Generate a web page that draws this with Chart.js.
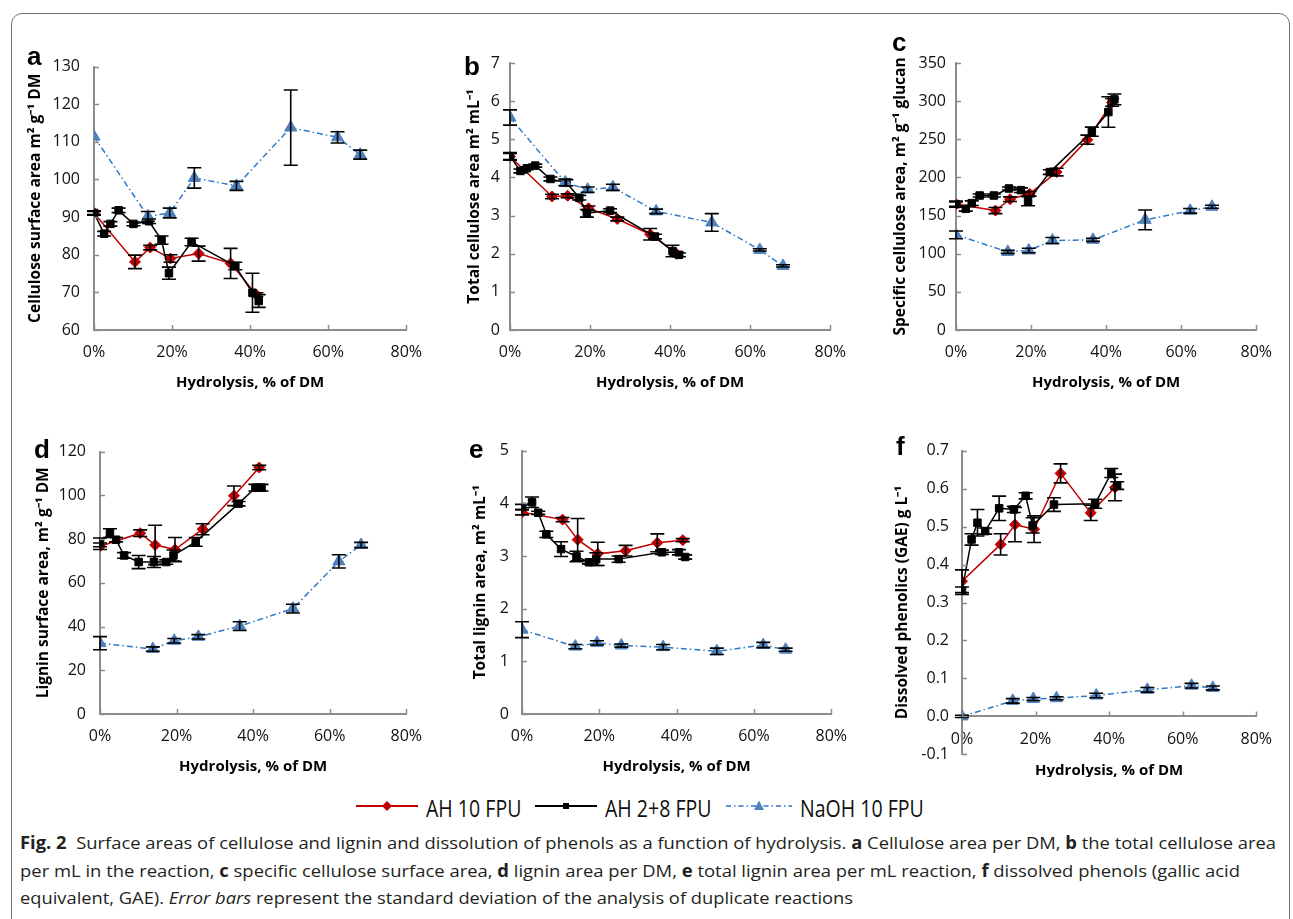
<!DOCTYPE html>
<html lang="en">
<head>
<meta charset="UTF-8">
<title>Fig. 2</title>
<script src="https://cdn.jsdelivr.net/npm/chart.js"></script>
<style>
  body{margin:0;background:#fff;width:1293px;height:919px;overflow:hidden;position:relative;font-family:"Open Sans",sans-serif}
  .frame{position:absolute;left:11px;top:13px;width:1279px;height:980px;box-sizing:border-box;border:1.5px solid #707070;border-radius:11px}
  canvas{position:absolute}
  .letter{position:absolute;font:bold 26px "Liberation Sans",Arial,sans-serif;line-height:1;color:#000}
  .leg{position:absolute;top:792px;height:28px;line-height:28px;font:23px "Open Sans",sans-serif;color:#111;white-space:nowrap;transform-origin:left center}
  .legsym{position:absolute;top:799px}
  .cap{position:absolute;left:20px;font:17px "Open Sans",sans-serif;color:#231f20;white-space:nowrap;line-height:20px;transform-origin:left center}
</style>
</head>
<body>
<div class="frame"></div>

<canvas id="pa"></canvas>
<canvas id="pb"></canvas>
<canvas id="pc"></canvas>
<canvas id="pd"></canvas>
<canvas id="pe"></canvas>
<canvas id="pf"></canvas>

<div class="letter" style="left:27px;top:43px">a</div>
<div class="letter" style="left:464px;top:53px">b</div>
<div class="letter" style="left:892px;top:29px">c</div>
<div class="letter" style="left:34px;top:436px">d</div>
<div class="letter" style="left:469px;top:436px">e</div>
<div class="letter" style="left:896px;top:433px">f</div>

<!-- legend -->
<svg class="legsym" id="sym1" width="62" height="14">
  <line x1="0" y1="7" x2="62" y2="7" stroke="#C00000" stroke-width="2"/>
  <polygon points="31,2 36,7 31,12 26,7" fill="#C00000"/>
</svg>
<div class="leg" id="leg1">AH 10 FPU</div>
<svg class="legsym" id="sym2" width="62" height="14">
  <line x1="0" y1="7" x2="62" y2="7" stroke="#000" stroke-width="2"/>
  <rect x="28" y="4" width="6" height="6" fill="#000"/>
</svg>
<div class="leg" id="leg2">AH 2+8 FPU</div>
<svg class="legsym" id="sym3" width="66" height="14">
  <line x1="0" y1="7" x2="66" y2="7" stroke="#2E78C8" stroke-width="1.5" stroke-dasharray="5,3,1.5,3"/>
  <polygon points="33,1.5 38,11 28,11" fill="#4F81BD"/>
</svg>
<div class="leg" id="leg3">NaOH 10 FPU</div>

<!-- caption -->
<div class="cap" id="cap1" style="top:833px"><b>Fig. 2</b>&nbsp; Surface areas of cellulose and lignin and dissolution of phenols as a function of hydrolysis. <b>a</b> Cellulose area per DM, <b>b</b> the total cellulose area</div>
<div class="cap" id="cap2" style="top:861px">per mL in the reaction, <b>c</b> specific cellulose surface area, <b>d</b> lignin area per DM, <b>e</b> total lignin area per mL reaction, <b>f</b> dissolved phenols (gallic acid</div>
<div class="cap" id="cap3" style="top:888px">equivalent, GAE). <i>Error bars</i> represent the standard deviation of the analysis of duplicate reactions</div>

<script>
// hydrolysis, % of DM (x values)
const hydRed   = [0, 10.5, 14.4, 19.6, 26.8, 35.0, 41.6];
const hydBlack = [0, 2.6, 4.2, 6.3, 10.1, 14.1, 17.3, 19.2, 25.0, 36.2, 40.6, 42.2];
const hydNaOH  = [0, 13.8, 19.4, 25.7, 36.5, 50.4, 62.4, 68.2];

// a - cellulose surface area m2/g DM
const aRed      = [91.1, 78.1, 81.9, 79.0, 80.3, 77.7, 69.4];
const aRedErr   = [0.4, 1.8, 0.6, 1.0, 2.0, 4.0, 0.5];
const aBlack    = [91.1, 85.6, 88.2, 91.8, 88.2, 88.9, 83.9, 75.1, 83.4, 77.0, 69.9, 67.7];
const aBlackErr = [0.6, 0.6, 0.6, 0.6, 0.5, 0.6, 1.1, 1.6, 1.0, 1.0, 5.2, 1.7];
const aNaOH     = [111.4, 90.2, 91.1, 100.4, 98.3, 113.8, 111.2, 106.6];
const aNaOHErr  = [0, 1.3, 1.3, 2.7, 1.2, 10, 1.5, 1.2];

// b - total cellulose area m2/mL
const bRed      = [4.55, 3.50, 3.52, 3.19, 2.91, 2.51, 2.0];
const bRedErr   = [0.08, 0.06, 0.05, 0.06, 0.05, 0.15, 0.05];
const bBlack    = [4.55, 4.17, 4.24, 4.31, 3.96, 3.86, 3.47, 3.06, 3.13, 2.45, 2.07, 1.97];
const bBlackErr = [0.1, 0.05, 0.04, 0.04, 0.05, 0.08, 0.06, 0.1, 0.05, 0.06, 0.15, 0.05];
const bNaOH     = [5.57, 3.87, 3.68, 3.74, 3.11, 2.82, 2.10, 1.68];
const bNaOHErr  = [0.2, 0.09, 0.07, 0.08, 0.06, 0.23, 0.03, 0.03];

// c - specific cellulose area m2/g glucan
const cRed      = [165, 156.6, 171.5, 178.5, 207, 249.4, 298.4];
const cRedErr   = [3, 4, 3, 3, 5, 6, 5];
const cBlack    = [165, 158.8, 166.3, 176.3, 176.3, 185.5, 183.3, 168.9, 207, 259.9, 285.7, 302.3];
const cBlackErr = [4, 3, 3, 2, 2, 2, 3, 6, 3, 6, 20, 7];
const cNaOH     = [124.7, 102.4, 104.2, 117.3, 118.2, 144.4, 156.2, 161.5];
const cNaOHErr  = [5, 2, 3, 4, 2, 13, 3, 2];

// d - lignin surface area m2/g DM
const dRed      = [76.7, 82.7, 77.3, 75.2, 84.5, 99.8, 112.7];
const dRedErr   = [1.5, 1.5, 9, 5.5, 2.5, 4.5, 1];
const dBlack    = [78.5, 82.7, 79.7, 72.5, 69.5, 69.5, 69.5, 72.5, 78.7, 96.2, 103.5, 103.5];
const dBlackErr = [2, 2, 1, 1.3, 3, 2.5, 1, 2.5, 2, 1, 1.5, 1.5];
const dNaOH     = [32.4, 29.7, 33.5, 35.3, 40.2, 48.2, 69.8, 77.3];
const dNaOHErr  = [3, 1, 1, 1, 2, 2, 3, 1.2];

// e - total lignin area m2/mL
const eRed      = [3.83, 3.69, 3.31, 3.04, 3.10, 3.25, 3.30];
const eRedErr   = [0.05, 0.04, 0.4, 0.22, 0.1, 0.17, 0.03];
const eBlack    = [3.93, 4.02, 3.82, 3.41, 3.13, 2.99, 2.88, 2.94, 2.94, 3.07, 3.07, 2.98];
const eBlackErr = [0.05, 0.1, 0.03, 0.06, 0.14, 0.1, 0.03, 0.12, 0.06, 0.04, 0.05, 0.04];
const eNaOH     = [1.60, 1.28, 1.35, 1.30, 1.27, 1.19, 1.31, 1.22];
const eNaOHErr  = [0.15, 0.04, 0.04, 0.03, 0.05, 0.06, 0.05, 0.03];

// f - dissolved phenolics (GAE) g/L
const fRed      = [0.356, 0.453, 0.505, 0.493, 0.640, 0.536, 0.603];
const fRedErr   = [0.03, 0.028, 0.045, 0.035, 0.025, 0.02, 0.035];
const fBlack    = [0.331, 0.466, 0.510, 0.488, 0.548, 0.545, 0.581, 0.503, 0.558, 0.560, 0.641, 0.608];
const fBlackErr = [0.01, 0.015, 0.035, 0.008, 0.032, 0.008, 0.008, 0.02, 0.018, 0.012, 0.012, 0.01];
const fNaOH     = [0.0, 0.041, 0.046, 0.048, 0.055, 0.070, 0.081, 0.075];
const fNaOHErr  = [0.003, 0.006, 0.004, 0.004, 0.006, 0.006, 0.006, 0.005];

const xTitle = 'Hydrolysis, % of DM';

// plot box [left, top, right, bottom], y title centre, tick gap, x scale height
const panels = [
  {id:'pa', title:'Cellulose surface area m² g⁻¹ DM', min:60, max:130, step:10, dp:0,
   red:aRed, redErr:aRedErr, black:aBlack, blackErr:aBlackErr, naoh:aNaOH, naohErr:aNaOHErr,
   box:[94,63,415,330], tx:35, gap:14, xh:62.4},
  {id:'pb', title:'Total cellulose area m² mL⁻¹', min:0, max:7, step:1, dp:0,
   red:bRed, redErr:bRedErr, black:bBlack, blackErr:bBlackErr, naoh:bNaOH, naohErr:bNaOHErr,
   box:[510,63,839,330], tx:474, gap:10, xh:62.4},
  {id:'pc', title:'Specific cellulose area, m² g⁻¹ glucan', min:0, max:350, step:50, dp:0,
   red:cRed, redErr:cRedErr, black:cBlack, blackErr:cBlackErr, naoh:cNaOH, naohErr:cNaOHErr,
   box:[956,63,1265,330], tx:900, gap:10, xh:62.4},
  {id:'pd', title:'Lignin surface area, m² g⁻¹ DM', min:0, max:120, step:20, dp:0,
   red:dRed, redErr:dRedErr, black:dBlack, blackErr:dBlackErr, naoh:dNaOH, naohErr:dNaOHErr,
   box:[100,448,415,714], tx:43, gap:14, xh:62.4},
  {id:'pe', title:'Total lignin area, m² mL⁻¹', min:0, max:5, step:1, dp:0,
   red:eRed, redErr:eRedErr, black:eBlack, blackErr:eBlackErr, naoh:eNaOH, naohErr:eNaOHErr,
   box:[522,448,840,714], tx:480, gap:13, xh:62.4},
  {id:'pf', title:'Dissolved phenolics (GAE) g L⁻¹', min:-0.1, max:0.7, step:0.1, dp:1,
   red:fRed, redErr:fRedErr, black:fBlack, blackErr:fBlackErr, naoh:fNaOH, naohErr:fNaOHErr,
   box:[962,448,1265,714], tx:902, gap:13, xh:63.4, xAtZero:true}
];

const AXIS = '#8c8c8c';

// error bars and inward tick marks
const extras = {
  id: 'extras',
  afterDatasetsDraw(chart) {
    const ctx = chart.ctx, ys = chart.scales.y;
    ctx.save();
    ctx.strokeStyle = '#000';
    ctx.lineWidth = 1.6;
    chart.data.datasets.forEach((ds, i) => {
      const meta = chart.getDatasetMeta(i);
      meta.data.forEach((pt, j) => {
        const e = ds.errors[j];
        if (!e) return;
        const v = ds.data[j].y;
        const y1 = ys.getPixelForValue(v + e), y2 = ys.getPixelForValue(v - e);
        ctx.beginPath();
        ctx.moveTo(pt.x, y1); ctx.lineTo(pt.x, y2);
        ctx.moveTo(pt.x - 7, y1); ctx.lineTo(pt.x + 7, y1);
        ctx.moveTo(pt.x - 7, y2); ctx.lineTo(pt.x + 7, y2);
        ctx.stroke();
      });
    });
    ctx.restore();
  },
  afterDraw(chart) {
    const ctx = chart.ctx, xs = chart.scales.x, ys = chart.scales.y, ca = chart.chartArea;
    const pos = chart.options.scales.x.position;
    const axisY = (typeof pos === 'object') ? ys.getPixelForValue(pos.y) : ca.bottom;
    ctx.save();
    ctx.strokeStyle = AXIS;
    ctx.lineWidth = 1.5;
    ctx.beginPath();
    ys.ticks.forEach(t => {
      const py = Math.round(ys.getPixelForValue(t.value)) + 0.5;
      ctx.moveTo(ca.left, py); ctx.lineTo(ca.left + 5, py);
    });
    xs.ticks.forEach(t => {
      const px = Math.round(xs.getPixelForValue(t.value)) + 0.5;
      ctx.moveTo(px, axisY); ctx.lineTo(px, axisY - 5);
    });
    ctx.stroke();
    ctx.restore();
  }
};

function pts(xs, ys) {
  return ys.map((v, i) => ({x: xs[i], y: v}));
}

panels.forEach(p => {
  const [L, T, R, B] = p.box;
  const left = Math.round(p.tx - 9);
  const top = T - 20;
  const w = R + 20 - left;
  const h = Math.round(B + p.xh - top);
  const yw = L - left;
  const xh = h - (B - top);
  const cv = document.getElementById(p.id);
  cv.width = w; cv.height = h;
  cv.style.left = left + 'px'; cv.style.top = top + 'px';

  new Chart(cv, {
    type: 'line',
    data: {
      datasets: [
        {
          label: 'NaOH 10 FPU', data: pts(hydNaOH, p.naoh), errors: p.naohErr,
          borderColor: '#2E78C8', borderWidth: 1.5, borderDash: [6, 3, 1.5, 3],
          pointStyle: 'triangle', pointRadius: 7,
          pointBackgroundColor: '#4F81BD', pointBorderColor: '#4F81BD', pointBorderWidth: 1
        },
        {
          label: 'AH 2+8 FPU', data: pts(hydBlack, p.black), errors: p.blackErr,
          borderColor: '#000', borderWidth: 1.5,
          pointStyle: 'rect', pointRadius: 5.3,
          pointBackgroundColor: '#000', pointBorderColor: '#000', pointBorderWidth: 1
        },
        {
          label: 'AH 10 FPU', data: pts(hydRed, p.red), errors: p.redErr,
          borderColor: '#C00000', borderWidth: 1.5,
          pointStyle: 'rectRot', pointRadius: 5.5,
          pointBackgroundColor: '#C00000', pointBorderColor: '#C00000', pointBorderWidth: 1
        }
      ]
    },
    options: {
      responsive: false,
      animation: false,
      layout: {padding: {top: 20, right: 20, left: 0, bottom: 0}},
      plugins: {legend: {display: false}, tooltip: {enabled: false}},
      elements: {line: {tension: 0}},
      scales: {
        x: {
          type: 'linear',
          position: p.xAtZero ? {y: 0} : 'bottom',
          min: 0, max: 80,
          grid: {display: false, drawTicks: false},
          border: {display: true, color: AXIS, width: 2},
          ticks: {stepSize: 20, padding: 13, color: '#111', font: {family: 'Open Sans', size: 16},
                  callback: v => v + '%'},
          title: {display: true, text: xTitle, color: '#000', padding: 0,
                  font: {family: 'Open Sans', size: 15, weight: 'bold', lineHeight: 1.2}},
          afterFit(s) { s.height = xh; }
        },
        y: {
          type: 'linear',
          min: p.min, max: p.max,
          grid: {display: false, drawTicks: false},
          border: {display: true, color: AXIS, width: 2},
          ticks: {stepSize: p.step, padding: p.gap, color: '#111', autoSkip: false,
                  font: {family: 'Open Sans', size: 16},
                  callback: v => Math.abs(v) < 1e-9 ? (p.dp ? '0.0' : '0') : v.toFixed(p.dp)},
          title: {display: true, text: p.title, color: '#000', padding: 0,
                  font: {family: 'Open Sans', size: 15.5, weight: 'bold', lineHeight: 1.2}},
          afterFit(s) { s.width = yw; }
        }
      }
    },
    plugins: [extras]
  });
});

// legend: condensed text, items laid out in a row centred on the figure
const LEG_SCALE = 0.85;
const legItems = [['sym1', 'leg1'], ['sym2', 'leg2'], ['sym3', 'leg3']];
const legParts = legItems.map(([s, t]) => {
  const sym = document.getElementById(s), txt = document.getElementById(t);
  return {sym, txt, sw: sym.getBoundingClientRect().width,
          tw: txt.getBoundingClientRect().width * LEG_SCALE};
});
const legTotal = legParts.reduce((a, q) => a + q.sw + 8 + q.tw, 0) + 2 * 14;
let lx = 640 - legTotal / 2;
legParts.forEach(q => {
  q.sym.style.left = lx + 'px';
  lx += q.sw + 8;
  q.txt.style.left = lx + 'px';
  q.txt.style.transform = 'scaleX(' + LEG_SCALE + ')';
  lx += q.tw + 14;
});

// narrow the caption lines to the width they take in the figure
[['cap1', 1256], ['cap2', 1220], ['cap3', 833]].forEach(([id, target]) => {
  const el = document.getElementById(id);
  const w = el.getBoundingClientRect().width;
  el.style.transform = 'scaleX(' + (target / w) + ')';
});
</script>
</body>
</html>
